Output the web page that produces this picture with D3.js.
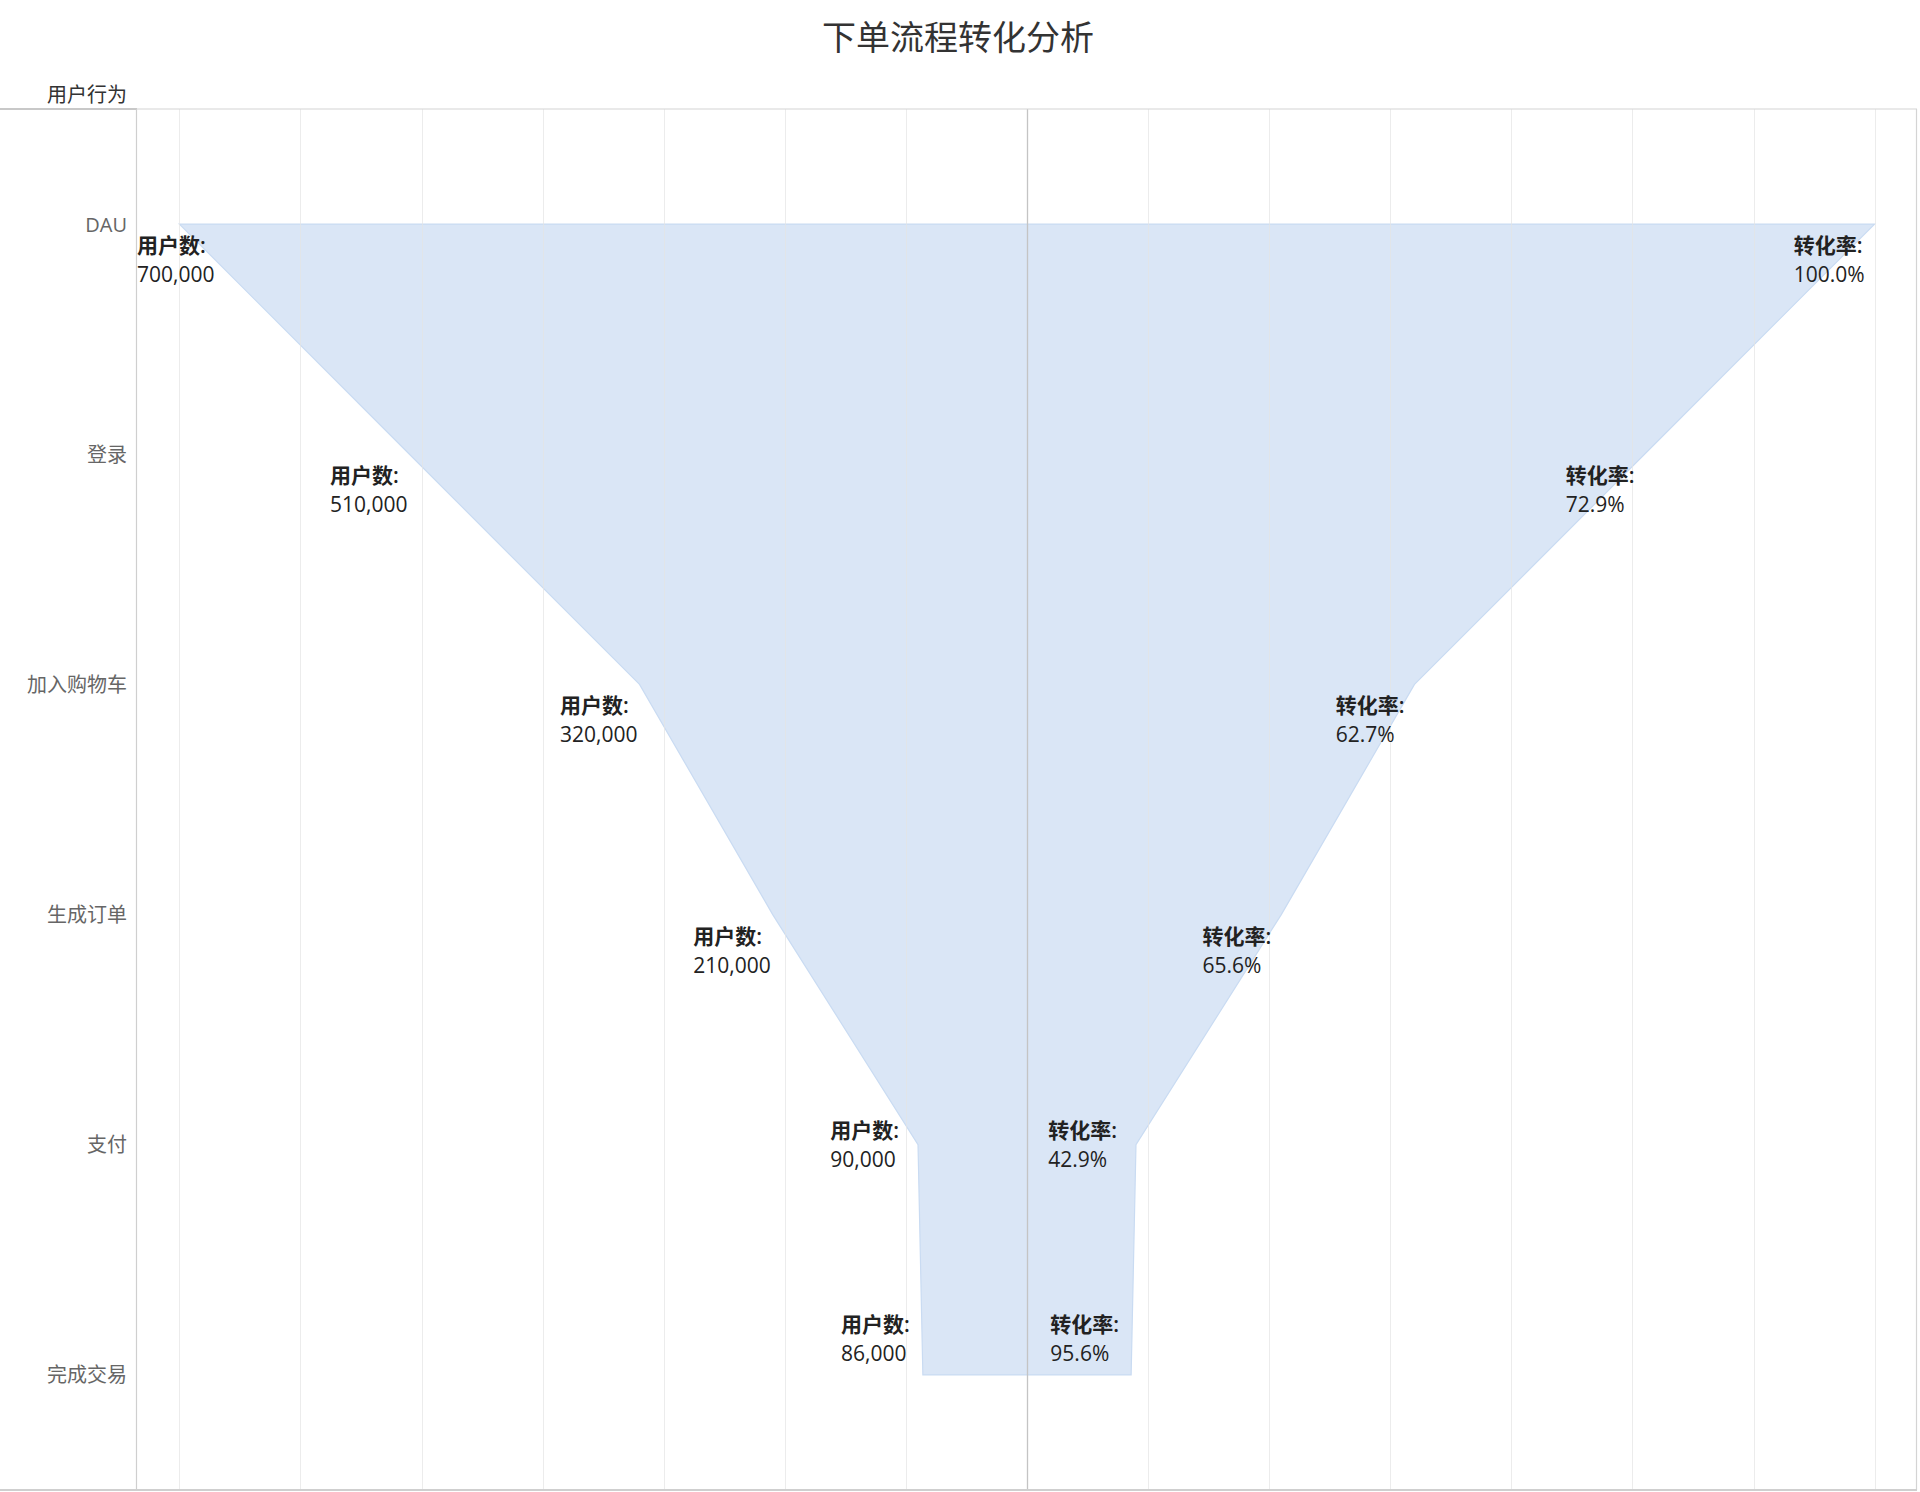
<!DOCTYPE html>
<html>
<head>
<meta charset="utf-8">
<script src="https://cdn.jsdelivr.net/npm/d3@7"></script>
<style>
  html, body { margin: 0; padding: 0; background: #fff; }
  svg { display: block; font-family: "Open Sans", "Noto Sans CJK SC", "Noto Sans", sans-serif; }
</style>
</head>
<body>
<svg id="chart" width="1920" height="1492"></svg>
<script>
// ---- data ----
const stages = ["DAU", "登录", "加入购物车", "生成订单", "支付", "完成交易"];
const users = [700000, 510000, 320000, 210000, 90000, 86000];
const rates = [100.0, 72.9, 62.7, 65.6, 42.9, 95.6];
const title = "下单流程转化分析";
const rowHeader = "用户行为";
const userLabel = "用户数:";
const rateLabel = "转化率:";

const data = stages.map((s, i) => ({ stage: s, users: users[i], rate: rates[i], i }));

// ---- layout ----
const W = 1920, H = 1492;
const plot = { left: 137, right: 1917, top: 109, bottom: 1490 };
const svg = d3.select("#chart");

const x = d3.scaleLinear().domain([-735000, 735000]).range([plot.left, plot.right]);
const y = d3.scalePoint().domain(stages).range([plot.top, plot.bottom]).padding(0.5);

// title
svg.append("text")
  .attr("x", 958).attr("y", 35)
  .attr("text-anchor", "middle").attr("dominant-baseline", "central")
  .attr("font-size", 34).attr("fill", "#333")
  .attr("font-family", "'Noto Sans CJK SC', sans-serif")
  .text(title);

// row header
svg.append("text")
  .attr("x", 127).attr("y", 93)
  .attr("text-anchor", "end").attr("dominant-baseline", "central")
  .attr("font-size", 20).attr("fill", "#333")
  .attr("font-family", "'Noto Sans CJK SC', sans-serif")
  .text(rowHeader);

// funnel area (symmetric)
const area = d3.area()
  .y(d => y(d.stage))
  .x0(d => x(-d.users))
  .x1(d => x(d.users))
  .curve(d3.curveLinear);

svg.append("path")
  .datum(data)
  .attr("d", area)
  .attr("fill", "#dae6f6")
  .attr("stroke", "#c9dbf2")
  .attr("stroke-width", 1.2);

// gridlines (over fill, subtle)
const ticks = x.ticks(14);
svg.append("g").selectAll("line")
  .data(ticks.filter(t => t !== 0))
  .join("line")
  .attr("x1", d => Math.round(x(d)) + 0.5).attr("x2", d => Math.round(x(d)) + 0.5)
  .attr("y1", plot.top).attr("y2", plot.bottom)
  .attr("stroke", "#e4e4e4").attr("stroke-opacity", 0.7).attr("stroke-width", 1);

// zero line
svg.append("line")
  .attr("x1", Math.round(x(0)) + 0.5).attr("x2", Math.round(x(0)) + 0.5)
  .attr("y1", plot.top).attr("y2", plot.bottom)
  .attr("stroke", "#c4c4c4").attr("stroke-width", 1.3);

// frame lines
svg.append("line").attr("x1", 0).attr("x2", plot.left).attr("y1", plot.top).attr("y2", plot.top)
  .attr("stroke", "#c8c8c8").attr("stroke-width", 2);
svg.append("line").attr("x1", plot.left).attr("x2", plot.right).attr("y1", plot.top).attr("y2", plot.top)
  .attr("stroke", "#d4d4d4").attr("stroke-width", 1.2);
svg.append("line").attr("x1", plot.left - 0.5).attr("x2", plot.left - 0.5).attr("y1", plot.top).attr("y2", plot.bottom)
  .attr("stroke", "#cfcfcf").attr("stroke-width", 1.2);
svg.append("line").attr("x1", plot.right - 0.5).attr("x2", plot.right - 0.5).attr("y1", plot.top).attr("y2", plot.bottom)
  .attr("stroke", "#d4d4d4").attr("stroke-width", 1.2);
svg.append("line").attr("x1", 0).attr("x2", plot.right).attr("y1", plot.bottom).attr("y2", plot.bottom)
  .attr("stroke", "#cfcfcf").attr("stroke-width", 2);

// y axis labels
const yAxis = d3.axisLeft(y).tickSize(0).tickPadding(10);
const yg = svg.append("g").attr("transform", `translate(${plot.left},0)`).call(yAxis);
yg.select(".domain").remove();
yg.selectAll("text")
  .attr("font-size", 20).attr("fill", "#666")
  .attr("font-family", "'Open Sans', 'Noto Sans CJK SC', sans-serif")
  .attr("dy", "0.35em");

// ---- labels ----
const n = data.length;
const fmt = d3.format(",");
const pct = d3.format(".1f");
const lineGap = 29;
function placement(i) {
  if (i === n - 1) return { dy: -51, ugap: 13, rgap: 12 };
  if (i === n - 2) return { dy: -14.5, ugap: 19, rgap: 19 };
  return { dy: 21, ugap: 2, rgap: 10 };
}

const lab = svg.append("g").attr("font-size", 21).attr("fill", "#222");

data.forEach(d => {
  const p = placement(d.i);
  const cy = y(d.stage) + p.dy;

  // user-count label (left side), block right-aligned to left edge
  const gU = lab.append("g");
  const t1 = gU.append("text").attr("y", cy).attr("dominant-baseline", "central")
    .attr("font-weight", 600).text(userLabel);
  const t2 = gU.append("text").attr("y", cy + lineGap).attr("dominant-baseline", "central")
    .text(fmt(d.users));
  const wU = Math.max(t1.node().getComputedTextLength(), t2.node().getComputedTextLength());
  let xu = x(-d.users) - p.ugap - wU;
  if (xu < plot.left) xu = plot.left;
  t1.attr("x", xu); t2.attr("x", xu);

  // rate label (right side), block right-aligned inside right edge
  const gR = lab.append("g");
  const r1 = gR.append("text").attr("y", cy).attr("dominant-baseline", "central")
    .attr("font-weight", 600).text(rateLabel);
  const r2 = gR.append("text").attr("y", cy + lineGap).attr("dominant-baseline", "central")
    .text(pct(d.rate) + "%");
  const wR = Math.max(r1.node().getComputedTextLength(), r2.node().getComputedTextLength());
  const xr = x(d.users) - p.rgap - wR;
  r1.attr("x", xr); r2.attr("x", xr);
});
</script>
</body>
</html>
